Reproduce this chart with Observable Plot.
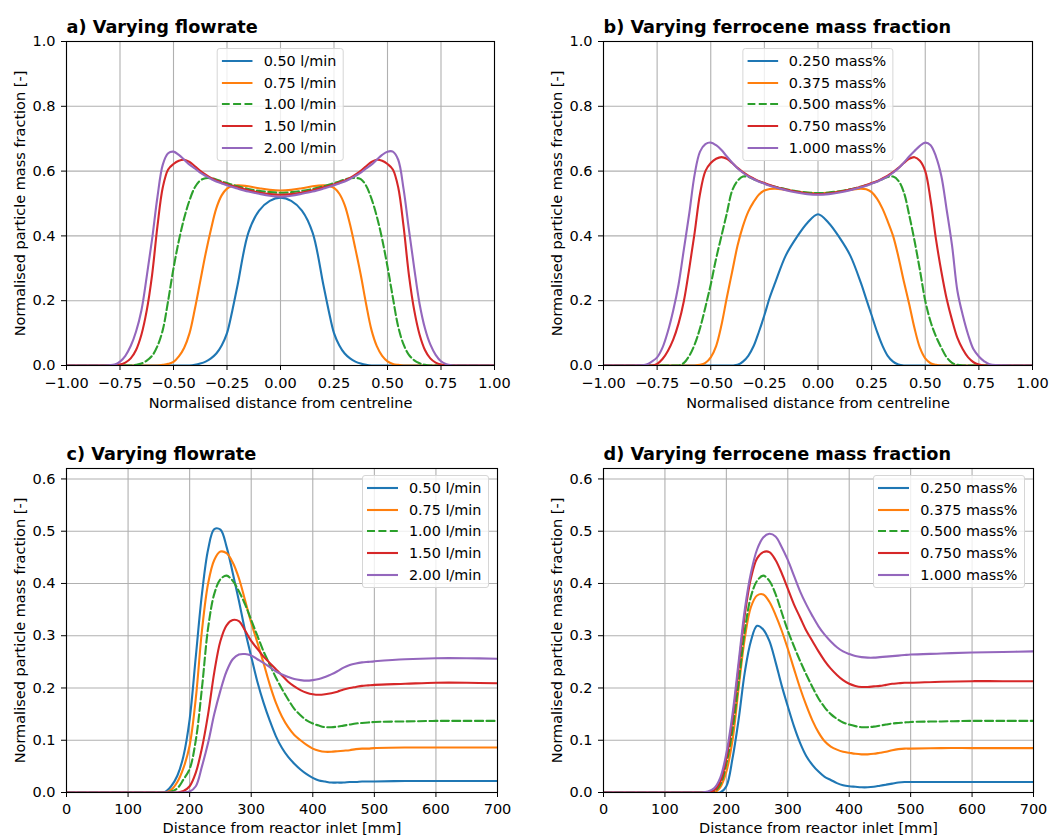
<!DOCTYPE html>
<html>
<head>
<meta charset="utf-8">
<script src="https://cdn.jsdelivr.net/npm/d3@7"></script>
<script src="https://cdn.jsdelivr.net/npm/@observablehq/plot@0.6"></script>
<style>
  body { margin: 0; background: #fff; }
  #fig { position: relative; width: 1049px; height: 838px; overflow: hidden; background: #fff;
         font-family: "DejaVu Sans", sans-serif; }
  .panel { position: absolute; }
  .panel svg { display: block; overflow: visible; }
  .legend { position: absolute; background: rgba(255,255,255,0.8); border: 1px solid #d6d6d6;
            border-radius: 3px; padding: 1px 6px 2px 4px; font-size: 14.4px; color: #000; }
  .legend .row { display: flex; align-items: center; height: 21.7px; white-space: nowrap; }
  .legend svg { margin-right: 11px; flex: none; }
</style>
</head>
<body>
<div id="fig"></div>
<script>
// ---- shared radial grid (normalised distance from centreline) ----
const radialX = [-1, -0.9, -0.8, -0.775, -0.75, -0.725, -0.7, -0.675, -0.65, -0.625, -0.6, -0.575, -0.55, -0.525, -0.5, -0.475, -0.45, -0.425, -0.4, -0.375, -0.35, -0.325, -0.3, -0.275, -0.25, -0.225, -0.2, -0.15, -0.1, -0.05, 0,
  0.05, 0.1, 0.15, 0.2, 0.225, 0.25, 0.275, 0.3, 0.325, 0.35, 0.375, 0.4, 0.425, 0.45, 0.475, 0.5, 0.525, 0.55, 0.575, 0.6, 0.625, 0.65, 0.675, 0.7, 0.725, 0.75, 0.775, 0.8, 0.9, 1];

// a) radial profiles, varying flowrate
const radFlow050 = [0,0,0,0,0,0,0,0,0,0,0,0,0,0,0,0,0,0, 0.002,0.006,0.012,0.022,0.037,0.062,0.1,0.17,0.25,0.41,0.478,0.508,0.518,
  0.508,0.478,0.41,0.25,0.17,0.1,0.062,0.037,0.022,0.012,0.006,0.002, 0,0,0,0,0,0,0,0,0,0,0,0,0,0,0,0,0,0];
const radFlow075 = [0,0,0,0,0,0,0,0,0,0,0,0, 0.002,0.005,0.011,0.028,0.055,0.1,0.175,0.26,0.345,0.42,0.485,0.525,0.546,0.554,0.556,0.553,0.547,0.542,0.54,
  0.542,0.547,0.553,0.556,0.555,0.548,0.53,0.495,0.435,0.36,0.28,0.19, 0.11,0.06,0.03,0.013,0.005,0.002,0, 0,0,0,0,0,0,0,0,0, 0,0];
const radFlow100 = [0,0,0,0,0,0,0, 0.002,0.006,0.015,0.03,0.06,0.11,0.2,0.3,0.385,0.455,0.51,0.55,0.571,0.578,0.578,0.574,0.568,0.563,0.558,0.553,0.545,0.539,0.535,0.533,
  0.535,0.539,0.545,0.553,0.558,0.563,0.568,0.574,0.578,0.579,0.575,0.555, 0.515,0.46,0.39,0.305,0.21,0.12,0.065,0.033,0.016,0.007,0.002,0,0,0,0,0, 0,0];
const radFlow150 = [0,0,0, 0.001,0.003,0.009,0.022,0.048,0.095,0.17,0.28,0.43,0.55,0.605,0.622,0.632,0.635,0.628,0.615,0.601,0.589,0.579,0.571,0.565,0.559,0.554,0.55,0.541,0.534,0.529,0.527,
  0.529,0.534,0.541,0.55,0.554,0.559,0.565,0.571,0.579,0.589,0.601,0.615, 0.628,0.635,0.632,0.622,0.605,0.55,0.43,0.28,0.17,0.095,0.048,0.022,0.009,0.003,0.001,0, 0,0];
const radFlow200 = [0,0, 0.001,0.003,0.012,0.03,0.06,0.105,0.17,0.275,0.39,0.52,0.62,0.655,0.66,0.65,0.635,0.62,0.608,0.595,0.585,0.576,0.568,0.562,0.556,0.551,0.546,0.537,0.53,0.524,0.521,
  0.524,0.53,0.537,0.546,0.551,0.556,0.562,0.568,0.576,0.585,0.595,0.608, 0.62,0.635,0.65,0.66,0.66,0.635,0.545,0.42,0.3,0.19,0.115,0.065,0.033,0.013,0.004,0.001, 0,0];

// b) radial profiles, varying ferrocene mass fraction
const radFerro0250 = [0,0,0,0,0,0,0,0,0,0,0,0,0,0,0,0,0,0,0, 0.002,0.012,0.03,0.06,0.105,0.155,0.21,0.255,0.34,0.395,0.44,0.467,
  0.44,0.395,0.34,0.255,0.205,0.155,0.105,0.062,0.03,0.012,0.003,0, 0,0,0,0,0,0,0,0,0,0,0,0,0,0,0,0, 0,0];
const radFerro0375 = [0,0,0,0,0,0,0,0,0,0,0,0, 0.002,0.008,0.025,0.06,0.125,0.21,0.29,0.37,0.43,0.475,0.505,0.528,0.54,0.545,0.546,0.542,0.537,0.533,0.532,
  0.533,0.537,0.542,0.546,0.544,0.535,0.515,0.485,0.445,0.4,0.335,0.26, 0.19,0.115,0.055,0.022,0.007,0.002,0, 0,0,0,0,0,0,0,0,0, 0,0];
const radFerro0500 = [0,0,0,0,0,0,0,0,0, 0.008,0.03,0.065,0.115,0.18,0.25,0.33,0.4,0.47,0.54,0.57,0.583,0.582,0.575,0.568,0.562,0.556,0.552,0.544,0.538,0.534,0.532,
  0.534,0.538,0.544,0.552,0.556,0.562,0.568,0.575,0.582,0.583,0.57,0.535, 0.465,0.385,0.295,0.2,0.135,0.09,0.055,0.025,0.008,0.002,0,0,0,0,0,0, 0,0];
const radFerro0750 = [0,0,0,0, 0.005,0.02,0.045,0.08,0.13,0.2,0.3,0.41,0.53,0.6,0.625,0.638,0.643,0.638,0.625,0.61,0.597,0.586,0.577,0.569,0.563,0.557,0.552,0.543,0.536,0.531,0.529,
  0.531,0.536,0.543,0.552,0.557,0.563,0.569,0.577,0.586,0.597,0.61,0.625, 0.638,0.643,0.632,0.6,0.51,0.39,0.29,0.205,0.14,0.085,0.05,0.025,0.01,0.003,0,0, 0,0];
const radFerro1000 = [0,0, 0.003,0.012,0.025,0.055,0.105,0.17,0.25,0.36,0.47,0.59,0.66,0.683,0.688,0.68,0.665,0.645,0.626,0.609,0.595,0.584,0.575,0.567,0.561,0.555,0.55,0.541,0.534,0.529,0.527,
  0.529,0.534,0.541,0.55,0.555,0.561,0.567,0.575,0.584,0.595,0.609,0.626, 0.645,0.662,0.678,0.688,0.68,0.645,0.585,0.48,0.37,0.23,0.155,0.095,0.05,0.028,0.013,0.004, 0,0];

// ---- shared axial grid (distance from reactor inlet, mm) ----
const axialX = [0, 50, 100, 150, 160, 170, 180, 190, 200, 210, 220, 230, 240, 250, 260, 270, 280, 290, 300, 310, 320, 330, 340, 350, 360, 370, 380, 390, 400, 410, 420, 430, 440, 450, 460, 470, 480, 490, 500, 550, 600, 650, 700];

// c) axial profiles, varying flowrate
const axFlow050 = [0,0,0,0, 0.001,0.012,0.032,0.07,0.14,0.26,0.38,0.465,0.504,0.503,0.47,0.42,0.367,0.31,0.26,0.212,0.172,0.138,0.108,0.085,0.068,0.055,0.044,0.035,0.028,0.023,0.021,0.019,0.019,0.019,0.02,0.02,0.021,0.021,0.021, 0.022,0.022,0.022,0.022];
const axFlow075 = [0,0,0,0, 0,0.005,0.02,0.047,0.09,0.18,0.31,0.4,0.445,0.461,0.458,0.44,0.41,0.368,0.325,0.287,0.248,0.207,0.172,0.145,0.125,0.11,0.1,0.091,0.084,0.08,0.078,0.078,0.079,0.08,0.081,0.083,0.084,0.084,0.085, 0.086,0.086,0.086,0.086];
const axFlow100 = [0,0,0,0, 0,0.002,0.008,0.025,0.045,0.1,0.2,0.315,0.38,0.408,0.415,0.405,0.385,0.36,0.33,0.3,0.27,0.245,0.22,0.198,0.178,0.16,0.148,0.138,0.132,0.128,0.125,0.125,0.126,0.128,0.13,0.132,0.133,0.134,0.135, 0.136,0.137,0.137,0.137];
const axFlow150 = [0,0,0,0, 0,0,0,0.003,0.012,0.038,0.085,0.15,0.23,0.29,0.32,0.33,0.328,0.31,0.29,0.275,0.26,0.248,0.236,0.224,0.212,0.203,0.196,0.191,0.188,0.187,0.188,0.19,0.193,0.197,0.2,0.202,0.204,0.205,0.206, 0.208,0.21,0.21,0.209];
const axFlow200 = [0,0,0,0, 0,0,0,0,0.002,0.012,0.05,0.095,0.15,0.195,0.232,0.255,0.264,0.265,0.262,0.255,0.248,0.24,0.232,0.226,0.221,0.217,0.215,0.214,0.215,0.217,0.221,0.226,0.232,0.239,0.244,0.247,0.249,0.25,0.251, 0.255,0.257,0.257,0.256];

// d) axial profiles, varying ferrocene mass fraction
const axFerro0250 = [0,0,0,0, 0,0,0,0,0.012,0.065,0.14,0.23,0.29,0.319,0.312,0.29,0.25,0.205,0.165,0.127,0.095,0.07,0.053,0.04,0.03,0.024,0.018,0.014,0.012,0.011,0.01,0.01,0.011,0.013,0.015,0.017,0.019,0.02,0.02, 0.02,0.02,0.02,0.02];
const axFerro0375 = [0,0,0,0, 0,0,0,0.01,0.04,0.1,0.2,0.295,0.355,0.377,0.379,0.365,0.34,0.31,0.275,0.237,0.2,0.167,0.138,0.115,0.098,0.088,0.082,0.078,0.076,0.074,0.073,0.073,0.074,0.076,0.078,0.081,0.083,0.084,0.084, 0.085,0.085,0.085,0.085];
const axFerro0500 = [0,0,0,0, 0,0,0.002,0.015,0.055,0.12,0.21,0.31,0.375,0.405,0.415,0.405,0.38,0.345,0.31,0.28,0.252,0.226,0.202,0.18,0.163,0.15,0.141,0.134,0.13,0.127,0.125,0.125,0.126,0.128,0.13,0.132,0.133,0.134,0.135, 0.136,0.137,0.137,0.137];
const axFerro0750 = [0,0,0,0, 0,0,0.004,0.02,0.065,0.14,0.24,0.34,0.41,0.448,0.46,0.46,0.445,0.42,0.39,0.36,0.335,0.31,0.29,0.27,0.252,0.237,0.225,0.215,0.208,0.204,0.202,0.202,0.203,0.204,0.206,0.208,0.209,0.21,0.21, 0.212,0.213,0.213,0.213];
const axFerro1000 = [0,0,0,0, 0,0.002,0.008,0.028,0.075,0.15,0.25,0.35,0.42,0.465,0.488,0.495,0.49,0.47,0.445,0.415,0.385,0.36,0.338,0.318,0.302,0.289,0.278,0.27,0.265,0.261,0.259,0.258,0.258,0.259,0.26,0.261,0.262,0.263,0.264, 0.266,0.268,0.269,0.27];

// ---- labels and ticks ----
const flowLabels = ["0.50 l/min", "0.75 l/min", "1.00 l/min", "1.50 l/min", "2.00 l/min"];
const massLabels = ["0.250 mass%", "0.375 mass%", "0.500 mass%", "0.750 mass%", "1.000 mass%"];
const panelTitles = ["a) Varying flowrate", "b) Varying ferrocene mass fraction", "c) Varying flowrate", "d) Varying ferrocene mass fraction"];
const radialTicks = [-1, -0.75, -0.5, -0.25, 0, 0.25, 0.5, 0.75, 1];
const radialFracTicks = [0, 0.2, 0.4, 0.6, 0.8, 1];
const axialTicks = [0, 100, 200, 300, 400, 500, 600, 700];
const axialFracTicks = [0, 0.1, 0.2, 0.3, 0.4, 0.5, 0.6];
const radialXLabel = "Normalised distance from centreline";
const axialXLabel = "Distance from reactor inlet [mm]";
const yLabel = "Normalised particle mass fraction [-]";

// ---- styling ----
const seriesColors = ["#1f77b4", "#ff7f0e", "#2ca02c", "#d62728", "#9467bd"];
const seriesDash = [null, null, "8,3.4", null, null];
const FONT = '"DejaVu Sans", sans-serif';

const fig = document.getElementById("fig");

function makePanel(cfg) {
  const {left, top, width, height, m} = cfg;
  const lines = cfg.series.map((vals, i) =>
    Plot.line(cfg.xs.map((x, j) => ({x, y: vals[j]})), {
      x: "x", y: "y",
      stroke: seriesColors[i],
      strokeWidth: 2.1,
      strokeDasharray: seriesDash[i] || undefined,
      curve: "catmull-rom",
      clip: true
    })
  );
  const svg = Plot.plot({
    width, height,
    marginLeft: m[0], marginRight: m[1], marginTop: m[2], marginBottom: m[3],
    x: {domain: cfg.xDomain},
    y: {domain: cfg.yDomain},
    style: {fontFamily: FONT, fontSize: "14.5px", color: "#000", background: "transparent", overflow: "visible"},
    marks: [
      Plot.gridX(cfg.xTicks, {stroke: "#b0b0b0", strokeOpacity: 1, strokeWidth: 1.1}),
      Plot.gridY(cfg.yTicks, {stroke: "#b0b0b0", strokeOpacity: 1, strokeWidth: 1.1}),
      ...lines,
      Plot.frame({stroke: "#000", strokeWidth: 1.1}),
      Plot.axisX(cfg.xTicks, {
        tickFormat: cfg.xFormat, tickSize: 5, tickPadding: cfg.xPad,
        label: cfg.xLabel, labelAnchor: "center", labelOffset: cfg.xLabelOffset, labelArrow: "none"
      }),
      Plot.axisY(cfg.yTicks, {
        tickFormat: d3.format(".1f"), tickSize: 5, tickPadding: 6,
        label: yLabel, labelAnchor: "center", labelOffset: 52, labelArrow: "none"
      }),
      Plot.text([cfg.title], {
        text: d => d, frameAnchor: "top-left", textAnchor: "start", lineAnchor: "bottom",
        dy: -8.5, fontWeight: "bold", fontSize: 17.7, fill: "#000"
      })
    ]
  });
  const wrap = document.createElement("div");
  wrap.className = "panel";
  wrap.style.left = left + "px";
  wrap.style.top = top + "px";
  wrap.appendChild(svg);
  fig.appendChild(wrap);

  // legend box inside the axes
  const frameL = left + m[0], frameR = left + width - m[1], frameT = top + m[2];
  const box = document.createElement("div");
  box.className = "legend";
  cfg.labels.forEach((lab, i) => {
    const row = document.createElement("div");
    row.className = "row";
    const dash = seriesDash[i] ? ` stroke-dasharray="${seriesDash[i]}"` : "";
    row.innerHTML = `<svg width="31" height="10"><line x1="0" x2="31" y1="5" y2="5" stroke="${seriesColors[i]}" stroke-width="2.1"${dash}/></svg><span>${lab}</span>`;
    box.appendChild(row);
  });
  box.style.top = (frameT + 7) + "px";
  if (cfg.legendPos === "upper center") {
    box.style.left = ((frameL + frameR) / 2) + "px";
    box.style.transform = "translateX(-50%)";
  } else {
    box.style.right = (1049 - (frameR - 8.5)) + "px";
  }
  fig.appendChild(box);
}

const fmt2 = d3.format(".2f");
const fmtInt = d3.format("d");

makePanel({
  left: 0, top: 0, width: 524, height: 419, m: [66, 30, 41, 54],
  xs: radialX, series: [radFlow050, radFlow075, radFlow100, radFlow150, radFlow200],
  xDomain: [-1, 1], yDomain: [0, 1], xTicks: radialTicks, yTicks: radialFracTicks,
  xFormat: fmt2, xPad: 7, xLabel: radialXLabel, xLabelOffset: 42,
  title: panelTitles[0], labels: flowLabels, legendPos: "upper center"
});
makePanel({
  left: 524, top: 0, width: 525, height: 419, m: [79, 17, 41, 54],
  xs: radialX, series: [radFerro0250, radFerro0375, radFerro0500, radFerro0750, radFerro1000],
  xDomain: [-1, 1], yDomain: [0, 1], xTicks: radialTicks, yTicks: radialFracTicks,
  xFormat: fmt2, xPad: 7, xLabel: radialXLabel, xLabelOffset: 42,
  title: panelTitles[1], labels: massLabels, legendPos: "upper center"
});
makePanel({
  left: 0, top: 419, width: 524, height: 419, m: [66, 27, 49, 46],
  xs: axialX, series: [axFlow050, axFlow075, axFlow100, axFlow150, axFlow200],
  xDomain: [0, 700], yDomain: [0, 0.62], xTicks: axialTicks, yTicks: axialFracTicks,
  xFormat: fmtInt, xPad: 6, xLabel: axialXLabel, xLabelOffset: 40,
  title: panelTitles[2], labels: flowLabels, legendPos: "upper right"
});
makePanel({
  left: 524, top: 419, width: 525, height: 419, m: [79, 16, 49, 46],
  xs: axialX, series: [axFerro0250, axFerro0375, axFerro0500, axFerro0750, axFerro1000],
  xDomain: [0, 700], yDomain: [0, 0.62], xTicks: axialTicks, yTicks: axialFracTicks,
  xFormat: fmtInt, xPad: 6, xLabel: axialXLabel, xLabelOffset: 40,
  title: panelTitles[3], labels: massLabels, legendPos: "upper right"
});
</script>
</body>
</html>
